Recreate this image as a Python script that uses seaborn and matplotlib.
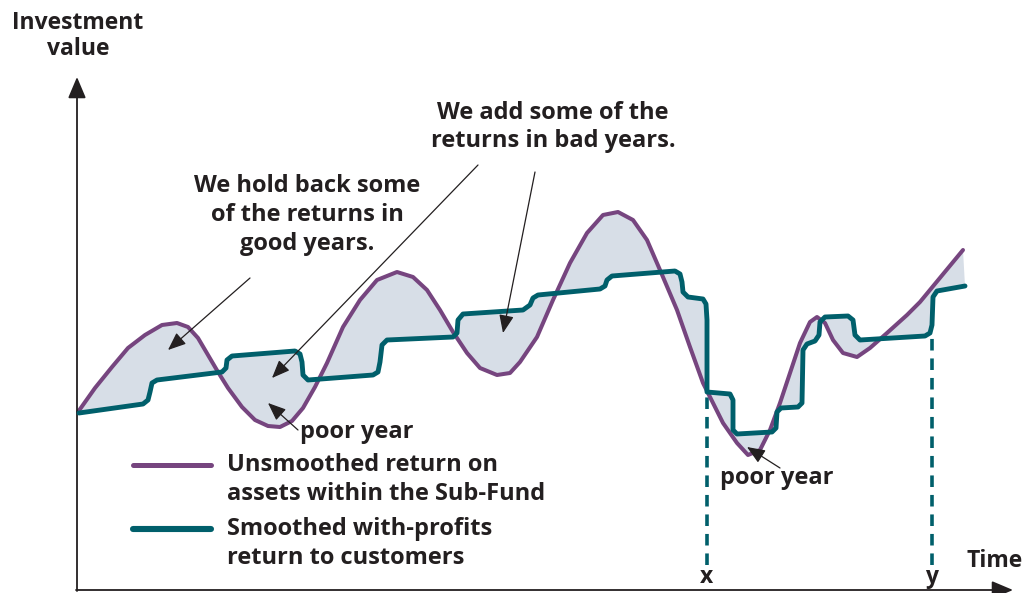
import numpy as np
import pandas as pd
import matplotlib
matplotlib.use("Agg")
import matplotlib.pyplot as plt
import seaborn as sns

# Valores (tiempo, valor de la inversion)
unsmoothed_time = [78, 95, 112, 128, 145, 162, 177, 188, 198, 208, 218, 228, 242, 255,
                   268, 280, 292, 303, 315, 327, 343, 360, 377, 397, 413, 427, 440, 453,
                   467, 480, 497, 510, 520, 537, 553, 570, 587, 603, 618, 633, 647, 660,
                   677, 690, 703, 710, 723, 737, 748, 760, 770, 780, 790, 800, 810, 817,
                   825, 833, 843, 857, 870, 887, 907, 920, 963]
unsmoothed_value = [181, 205, 226, 245, 258, 268, 270, 266, 255, 238, 221, 205, 186, 173,
                    167, 166, 172, 185, 206, 230, 266, 293, 313, 321, 316, 303, 283, 261,
                    240, 225, 218, 220, 231, 256, 293, 330, 360, 378, 381, 373, 353, 323,
                    283, 246, 210, 196, 170, 150, 138, 143, 163, 190, 220, 250, 271, 276,
                    270, 253, 240, 236, 245, 260, 278, 291, 343]

smoothed_time = [79, 143, 148, 150, 152, 157, 222, 226, 227, 232, 295, 300, 302, 303, 308,
                 373, 378, 380, 382, 387, 453, 457, 458, 463, 523, 530, 533, 538, 600, 605,
                 607, 612, 675, 680, 682, 683, 688, 703, 706, 707, 707, 730, 733, 733, 737,
                 772, 776, 777, 781, 798, 802, 803, 807, 815, 819, 820, 825, 848, 853, 855,
                 860, 925, 930, 932, 933, 937, 965]
smoothed_value = [180, 189, 193, 201, 210, 213, 221, 225, 233, 237, 242, 239, 231, 218, 213,
                  218, 221, 231, 248, 253, 256, 260, 273, 279, 283, 288, 295, 298, 304, 307,
                  313, 317, 322, 319, 311, 301, 296, 294, 289, 273, 201, 199, 193, 163, 159,
                  161, 165, 181, 185, 186, 190, 243, 249, 252, 258, 271, 276, 277, 273, 258,
                  253, 257, 260, 268, 296, 302, 307]

marker_times = [707, 932]
marker_tops = [198, 258]
marker_labels = ["x", "y"]

purple = "#76457f"
teal = "#005f6b"
fill_col = "#d7dee7"
ink = "#231f20"

sns.set_style("white")
plt.rcParams["font.family"] = ["Open Sans", "DejaVu Sans"]
plt.rcParams["font.weight"] = "bold"

fig = plt.figure(figsize=(10.27, 5.93), dpi=100)
ax = fig.add_axes([0, 0, 1, 1])
ax.set_xlim(0, 1027)
ax.set_ylim(0, 593)
ax.axis("off")

# zona entre las dos curvas
poly_x = np.concatenate([unsmoothed_time, smoothed_time[::-1]])
poly_y = np.concatenate([unsmoothed_value, smoothed_value[::-1]])
ax.fill(poly_x, poly_y, color=fill_col, lw=0, zorder=1)

df_u = pd.DataFrame({"t": unsmoothed_time, "v": unsmoothed_value})
df_s = pd.DataFrame({"t": smoothed_time, "v": smoothed_value})
sns.lineplot(data=df_u, x="t", y="v", sort=False, estimator=None, color=purple,
             lw=2.9, ax=ax, zorder=3, label="Unsmoothed return on\nassets within the Sub-Fund",
             solid_joinstyle="round")
sns.lineplot(data=df_s, x="t", y="v", sort=False, estimator=None, color=teal,
             lw=3.5, ax=ax, zorder=4, label="Smoothed with-profits\nreturn to customers",
             solid_joinstyle="round")

# lineas discontinuas x / y
for t, top, lab in zip(marker_times, marker_tops, marker_labels):
    ax.plot([t, t], [28, top], color=teal, lw=2.6, ls=(0, (3.2, 2.2)), zorder=2)
    ax.text(t, 16, lab, ha="center", va="center", fontsize=16.5, color=ink)

# ejes con flechas
arrow_kw = dict(arrowstyle="-|>,head_length=1.3,head_width=0.55", color=ink, lw=1.3,
                shrinkA=0, shrinkB=0)
ax.annotate("", xy=(1013, 3), xytext=(76, 3), arrowprops=arrow_kw)
ax.annotate("", xy=(77, 516), xytext=(77, 2), arrowprops=arrow_kw)
ax.text(78, 557, "Investment\nvalue", ha="center", va="center", fontsize=16.5,
        color=ink, linespacing=1.1)
ax.text(995, 32, "Time", ha="center", va="center", fontsize=16.5, color=ink)

# anotaciones
fs = 17
ax.text(553, 466, "We add some of the\nreturns in bad years.", ha="center", va="center",
        fontsize=fs, color=ink, linespacing=1.25)
ax.text(307, 378, "We hold back some\nof the returns in\ngood years.", ha="center",
        va="center", fontsize=fs, color=ink, linespacing=1.25)
ax.text(300, 161, "poor year", ha="left", va="center", fontsize=fs, color=ink)
ax.text(720, 115, "poor year", ha="left", va="center", fontsize=fs, color=ink)

pointer_kw = dict(arrowstyle="-|>,head_length=1.1,head_width=0.45", color=ink, lw=0.9,
                  shrinkA=0, shrinkB=0)
pointers = [((250, 315), (168, 243)), ((478, 428), (272, 215)), ((535, 421), (503, 260)),
            ((298, 163), (268, 190)), ((780, 125), (747, 146))]
for start, end in pointers:
    ax.annotate("", xy=end, xytext=start, arrowprops=pointer_kw, zorder=5)

leg = ax.legend(loc="upper left", bbox_to_anchor=(133 / 1027, 140 / 593), frameon=False,
                handlelength=3.3, handletextpad=0.68, labelspacing=0.5, fontsize=fs,
                borderaxespad=0, borderpad=0)
for txt in leg.get_texts():
    txt.set_color(ink)
    txt.set_linespacing(1.25)
# la muestra de linea va a la altura de la primera linea del texto
for line, w in zip(leg.get_lines(), [3.6, 4.4]):
    line.set_linewidth(w)
    line.set_ydata(np.asarray(line.get_ydata()) + 11)

fig.savefig("out.png", dpi=100)
